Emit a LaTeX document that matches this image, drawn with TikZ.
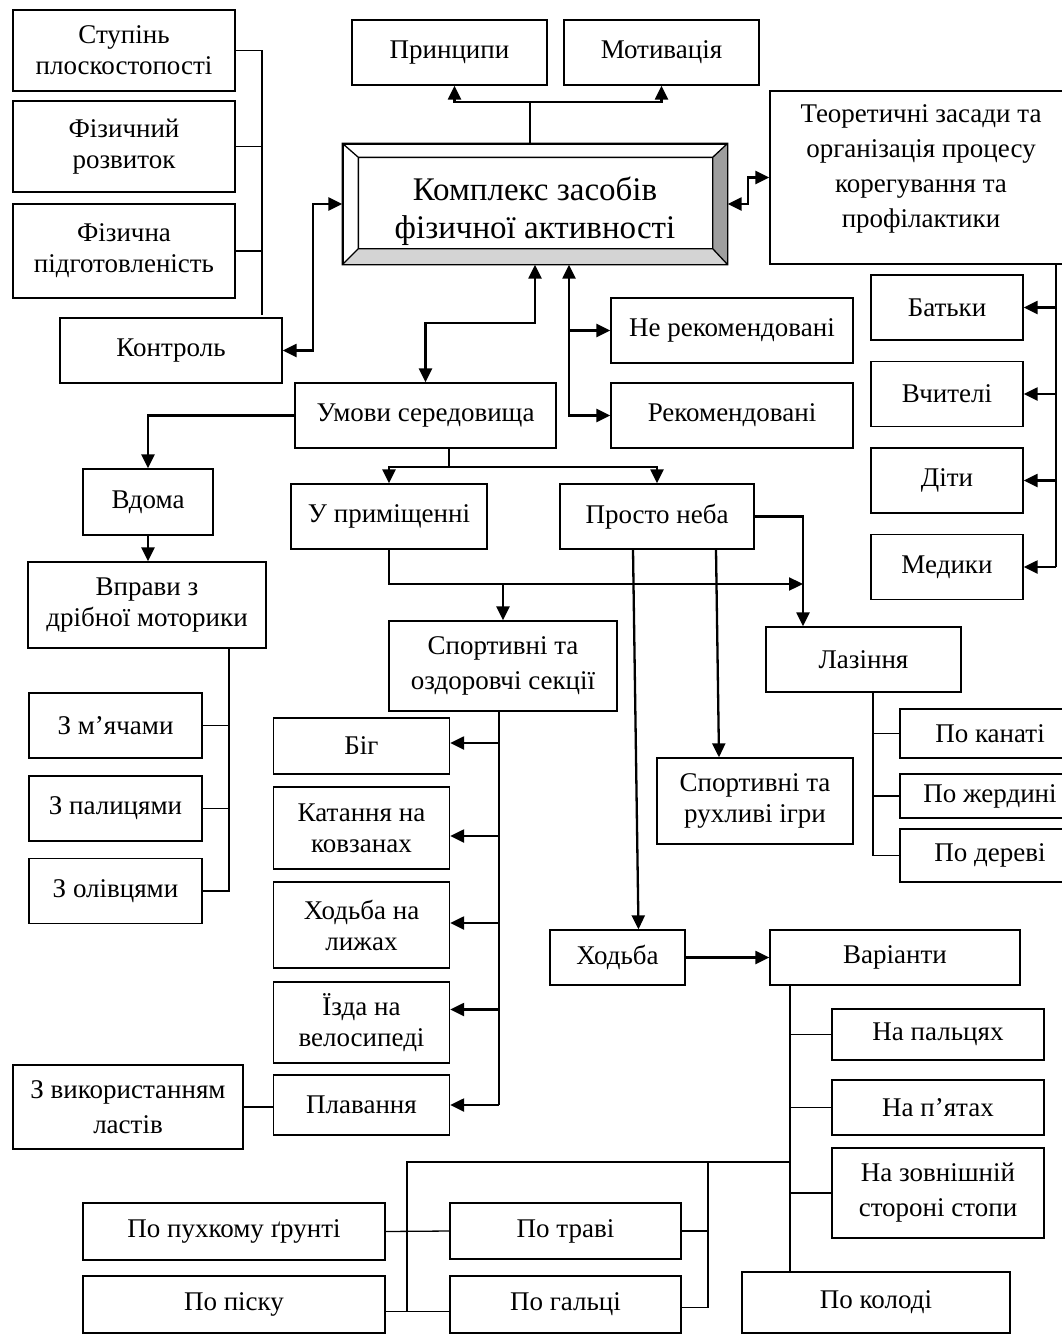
\documentclass[tikz,border=0pt]{standalone}
\usepackage{fontspec}
\setmainfont{Liberation Serif}
\usetikzlibrary{arrows.meta, calc}

\begin{document}
\begin{tikzpicture}[x=1pt, y=-1pt,
    >={Triangle[length=14pt, width=13pt]},
    box/.style={draw, line width=1.3pt, rectangle, inner sep=0pt, align=center,
        font=\fontsize{27}{31}\selectfont},
    loose/.style={font=\fontsize{27}{35}\selectfont},
    arr/.style={line width=2.3pt},
    ln/.style={line width=1.3pt}]
    \useasboundingbox (0,0) rectangle (1062,1335);
    \clip (0,0) rectangle (1062,1335);

    % 1. Центральний блок
    \node[box, minimum width=384, minimum height=120, font=\fontsize{33}{38}\selectfont]
        (main) at (535,204) {\rule{0pt}{38pt}Комплекс засобів\\фізичної активності};
    \coordinate (a1) at ($(main.north west)+(16,14)$);
    \coordinate (a2) at ($(main.north east)+(-15,14)$);
    \coordinate (a3) at ($(main.south east)+(-15,-16)$);
    \coordinate (a4) at ($(main.south west)+(16,-16)$);
    \fill[black!17] (main.south west) -- (main.south east) -- (a3) -- (a4) -- cycle;
    \fill[black!38] (main.north east) -- (main.south east) -- (a3) -- (a2) -- cycle;
    \draw[line width=1.3pt] (main.south west) rectangle (main.north east) (a1) rectangle (a3)
        (main.north west) -- (a1) (main.north east) -- (a2)
        (main.south east) -- (a3) (main.south west) -- (a4);

    % 2. Верхні та праві блоки
    \node[box, minimum width=195, minimum height=65] (pryn) at (449.5,52.5) {Принципи};
    \node[box, minimum width=195, minimum height=65] (motyv) at (661.5,52.5) {Мотивація};
    \node[box, loose, minimum width=302, minimum height=173] (teor) at (921,177.5)
        {Теоретичні засади та\\організація процесу\\корегування та\\профілактики\\[-12pt]};
    \node[box, minimum width=152, minimum height=65] (batky) at (947,307.5) {Батьки};
    \node[box, minimum width=152, minimum height=65] (vchyt) at (947,394) {Вчителі};
    \node[box, minimum width=152, minimum height=65] (dity) at (947,480.5) {Діти};
    \node[box, minimum width=152, minimum height=65] (medyky) at (947,567) {Медики};

    % 3. Контроль
    \node[box, minimum width=222, minimum height=81] (stup) at (124,50.5) {Ступінь\\плоскостопості};
    \node[box, minimum width=222, minimum height=91] (rozv) at (124,146.5) {Фізичний\\розвиток};
    \node[box, minimum width=222, minimum height=94] (pidg) at (124,251) {Фізична\\підготовленість};
    \node[box, minimum width=222, minimum height=65] (kontrol) at (171,350.5) {Контроль};

    % 4. Рекомендації та умови
    \node[box, minimum width=242, minimum height=65] (nerek) at (732,330.5) {Не рекомендовані};
    \node[box, minimum width=242, minimum height=65] (rek) at (732,415.5) {Рекомендовані};
    \node[box, minimum width=261, minimum height=65] (umovy) at (425.5,415.5) {Умови середовища};
    \node[box, minimum width=130, minimum height=66] (vdoma) at (148,502) {Вдома};
    \node[box, minimum width=238, minimum height=86] (vpravy) at (147,605) {Вправи з\\дрібної моторики};
    \node[box, minimum width=173, minimum height=65] (myach) at (115.5,725.5) {З м’ячами};
    \node[box, minimum width=173, minimum height=65] (palytsi) at (115.5,808.5) {З палицями};
    \node[box, minimum width=173, minimum height=65] (olivtsi) at (115.5,891) {З олівцями};
    \node[box, minimum width=196, minimum height=65] (prym) at (389,516.5) {У приміщенні};
    \node[box, minimum width=194, minimum height=65] (prosto) at (657,516.5) {Просто неба};

    % 5. Секції та лазіння
    \node[box, loose, minimum width=228, minimum height=90] (sekts) at (503,666) {Спортивні та\\оздоровчі секції};
    \node[box, minimum width=196, minimum height=86] (ihry) at (755,801) {Спортивні та\\рухливі ігри};
    \node[box, minimum width=195, minimum height=65] (laz) at (863.5,659.5) {Лазіння};
    \node[box, minimum width=180, minimum height=49] (kanat) at (990,733.5) {По канаті};
    \node[box, minimum width=180, minimum height=44] (zherd) at (990,796) {По жердині};
    \node[box, minimum width=180, minimum height=53] (derev) at (990,855.5) {По дереві};
    \node[box, minimum width=176, minimum height=56] (bih) at (361.5,746) {Біг};
    \node[box, minimum width=176, minimum height=82] (katan) at (361.5,828) {Катання на\\ковзанах};
    \node[box, minimum width=176, minimum height=86] (lyzhi) at (361.5,925) {Ходьба на\\лижах};
    \node[box, minimum width=176, minimum height=81] (velo) at (361.5,1022.5) {Їзда на\\велосипеді};
    \node[box, minimum width=176, minimum height=60] (plav) at (361.5,1105) {Плавання};
    \node[box, loose, minimum width=230, minimum height=84] (last) at (128,1107) {З використанням\\ластів};

    % 6. Ходьба
    \node[box, minimum width=135, minimum height=55] (khodba) at (617.5,957.5) {Ходьба};
    \node[box, minimum width=250, minimum height=55] (var) at (895,957.5) {Варіанти};
    \node[box, minimum width=212, minimum height=51] (palts) at (938,1034.5) {На пальцях};
    \node[box, minimum width=212, minimum height=55] (pyat) at (938,1107.5) {На п’ятах};
    \node[box, loose, minimum width=212, minimum height=90] (zovn) at (938,1193) {На зовнішній\\стороні стопи};
    \node[box, minimum width=268, minimum height=61] (kolod) at (876,1302.5) {По колоді};
    \node[box, minimum width=231, minimum height=56] (travi) at (565.5,1231) {По траві};
    \node[box, minimum width=231, minimum height=57] (halts) at (565.5,1304.5) {По гальці};
    \node[box, minimum width=302, minimum height=57] (pukh) at (234,1231.5) {По пухкому ґрунті};
    \node[box, minimum width=302, minimum height=57] (pisok) at (234,1304.5) {По піску};

    % 7. З'єднання
    \coordinate (fj) at (262,315);
    \draw[ln] (fj) |- (stup.east);
    \draw[ln] (fj |- rozv.east) -- (rozv.east);
    \draw[ln] (fj |- pidg.east) -- (pidg.east);

    \coordinate (tj) at (530,102);
    \draw[arr] (main.north -| tj) -- (tj);
    \draw[arr,<->] ([xshift=5]pryn.south) |- (tj) -| (motyv.south);
    \coordinate (kj) at (313,351);
    \draw[arr,<->] (kontrol.east) -- (kontrol.east -| kj) |- (main.west);
    \coordinate (ej) at (748,204);
    \draw[arr,<->] (main.east) -- (main.east -| ej) |- (teor.west);
    \coordinate (uj) at (535,323);
    \draw[arr,<->] (main.south) -- (main.south |- uj) -| (umovy.north);
    \coordinate (rj) at (569,264);
    \draw[arr,<->] (main.south -| rj) |- (rek.west);
    \draw[arr,->] (rj |- nerek.west) -- (nerek.west);
    \coordinate (cj) at (1056,264);
    \draw[arr] (cj) -- (cj |- medyky.east);
    \foreach \n in {batky, vchyt, dity, medyky}
        \draw[arr,->] (cj |- \n.east) -- (\n.east);

    \draw[arr,->] (umovy.west) -| (vdoma.north);
    \draw[arr,->] (vdoma.south) -- (vdoma.south |- vpravy.north);
    \coordinate (vj) at (229,648);
    \draw[ln] (vj) |- (olivtsi.east);
    \draw[ln] (vj |- myach.east) -- (myach.east);
    \draw[ln] (vj |- palytsi.east) -- (palytsi.east);

    \coordinate (pj) at (449,467);
    \draw[arr] (umovy.south -| pj) -- (pj);
    \draw[arr,<->] (prym.north) |- (pj) -| (prosto.north);
    \coordinate (sj) at (389,584);
    \coordinate (lj) at (803,516.5);
    \draw[arr,->] (prym.south) -- (sj) -- (sj -| lj);
    \draw[arr,->] (sekts.north |- sj) -- (sekts.north);
    \draw[arr,->] (prosto.east) -- (lj) -- (lj |- laz.north);
    \draw[arr,->] ([xshift=-24]prosto.south) -- ([xshift=21]khodba.north);
    \draw[arr,->] ([xshift=59]prosto.south) -- ([xshift=-36]ihry.north);

    \coordinate (zj) at (873,692);
    \draw[ln] (zj) |- (derev.west);
    \draw[ln] (zj |- kanat.west) -- (kanat.west);
    \draw[ln] (zj |- zherd.west) -- (zherd.west);

    \coordinate (bj) at (499,711);
    \draw[arr] (bj) -- (bj |- plav.east);
    \foreach \n/\d in {bih/3, katan/-8, lyzhi/2, velo/13, plav/0} {
        \coordinate (t) at ([yshift=\d]\n.east);
        \draw[arr,->] (bj |- t) -- (t);
    }
    \draw[ln] (last.east) -- (last.east -| plav.west);

    \draw[arr,->] (khodba.east) -- (var.west);
    \coordinate (wj) at (790,985);
    \draw[ln] (wj) -- (wj |- kolod.north);
    \foreach \n in {palts, pyat, zovn}
        \draw[ln] (wj |- \n.west) -- (\n.west);
    \coordinate (gj) at (790,1162);
    \coordinate (g1) at (407,1162);
    \coordinate (g2) at (708,1162);
    \coordinate (ps) at ([yshift=-7]pisok.east);
    \coordinate (hs) at ([yshift=-3]halts.east);
    \draw[ln] (gj) -- (g1) |- (ps);
    \draw[ln] (ps) -- (ps -| halts.west);
    \draw[ln] (pukh.east) -- (travi.west);
    \draw[ln] (travi.east) -- (travi.east -| g2);
    \draw[ln] (g2) |- (hs);
\end{tikzpicture}
\end{document}
